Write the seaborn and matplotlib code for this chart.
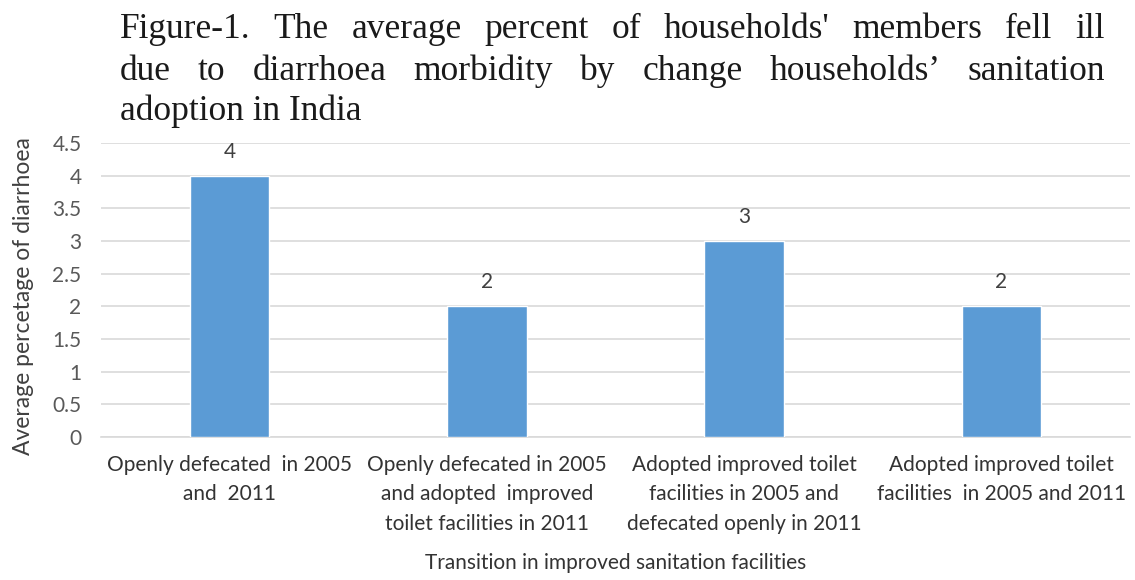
import matplotlib
matplotlib.use("Agg")
import matplotlib.pyplot as plt
import seaborn as sns
import pandas as pd

categories = [
    "Openly defecated  in 2005\nand  2011",
    "Openly defecated in 2005\nand adopted  improved\ntoilet facilities in 2011",
    "Adopted improved toilet\nfacilities in 2005 and\ndefecated openly in 2011",
    "Adopted improved toilet\nfacilities  in 2005 and 2011",
]
values = [4, 2, 3, 2]
yticks = [0, 0.5, 1, 1.5, 2, 2.5, 3, 3.5, 4, 4.5]
ytick_labels = ["0", "0.5", "1", "1.5", "2", "2.5", "3", "3.5", "4", "4.5"]
title_lines = [
    "Figure-1. The average percent of households' members fell ill",
    "due to diarrhoea morbidity by change households\u2019 sanitation",
    "adoption in India",
]
xlabel = "Transition in improved sanitation facilities"
ylabel = "Average percetage of diarrhoea"

sns.set_theme(style="white")
plt.rcParams["font.family"] = ["Lato", "DejaVu Sans"]

df = pd.DataFrame({"cat": categories, "val": values})

W, H = 1135, 580
fig = plt.figure(figsize=(W / 100, H / 100), dpi=100)
ax = fig.add_axes([101 / W, 1 - 437 / H, 1029 / W, (437 - 143) / H])

sns.barplot(data=df, x="cat", y="val", color="#5B9BD5", saturation=1,
            width=0.31, ax=ax, zorder=3)

ax.set_ylim(0, 4.5)
ax.set_xlim(-0.5, 3.5)
ax.set_yticks(yticks)
ax.set_yticklabels(ytick_labels)
ax.yaxis.grid(True, color="#d9d9d9", linewidth=1.2, zorder=0)
ax.set_axisbelow(True)
for s in ["top", "right", "left"]:
    ax.spines[s].set_visible(False)
ax.spines["bottom"].set_color("#d9d9d9")
ax.spines["bottom"].set_linewidth(1.2)
ax.tick_params(axis="both", length=0, colors="#595959", labelsize=15)
ax.tick_params(axis="y", pad=14)
ax.tick_params(axis="x", pad=13)
for lab in ax.get_xticklabels():
    lab.set_horizontalalignment("center")
    lab.set_multialignment("center")
    lab.set_color("#333333")
    lab.set_linespacing(1.58)

for c in ax.containers:
    ax.bar_label(c, labels=[str(v) for v in values], padding=10,
                 fontsize=15, color="#404040")

ax.set_xlabel(xlabel, fontsize=15, color="#333333", labelpad=14)
ax.set_ylabel(ylabel, fontsize=16.5, color="#404040")
ax.yaxis.set_label_coords(-0.065, 0.48)

# Title lines (justified like the source figure)
serif = ["Liberation Serif", "DejaVu Serif"]
left_px, right_px = 120, 1105
baselines = [38, 80, 120]
fs_title = 25.5
renderer = fig.canvas.get_renderer()
for i, (line, yb) in enumerate(zip(title_lines, baselines)):
    y = 1 - yb / H
    if i < len(title_lines) - 1:
        words = line.split(" ")
        texts = [fig.text(0, y, w, fontsize=fs_title, family=serif, color="#1a1a1a",
                          va="baseline", ha="left") for w in words]
        widths = [t.get_window_extent(renderer).width for t in texts]
        gap = (right_px - left_px - sum(widths)) / (len(words) - 1)
        x = left_px
        for t, w in zip(texts, widths):
            t.set_x(x / W)
            x += w + gap
    else:
        fig.text(left_px / W, y, line, fontsize=fs_title, family=serif,
                 color="#1a1a1a", va="baseline", ha="left")

fig.savefig("out.png", dpi=100)
